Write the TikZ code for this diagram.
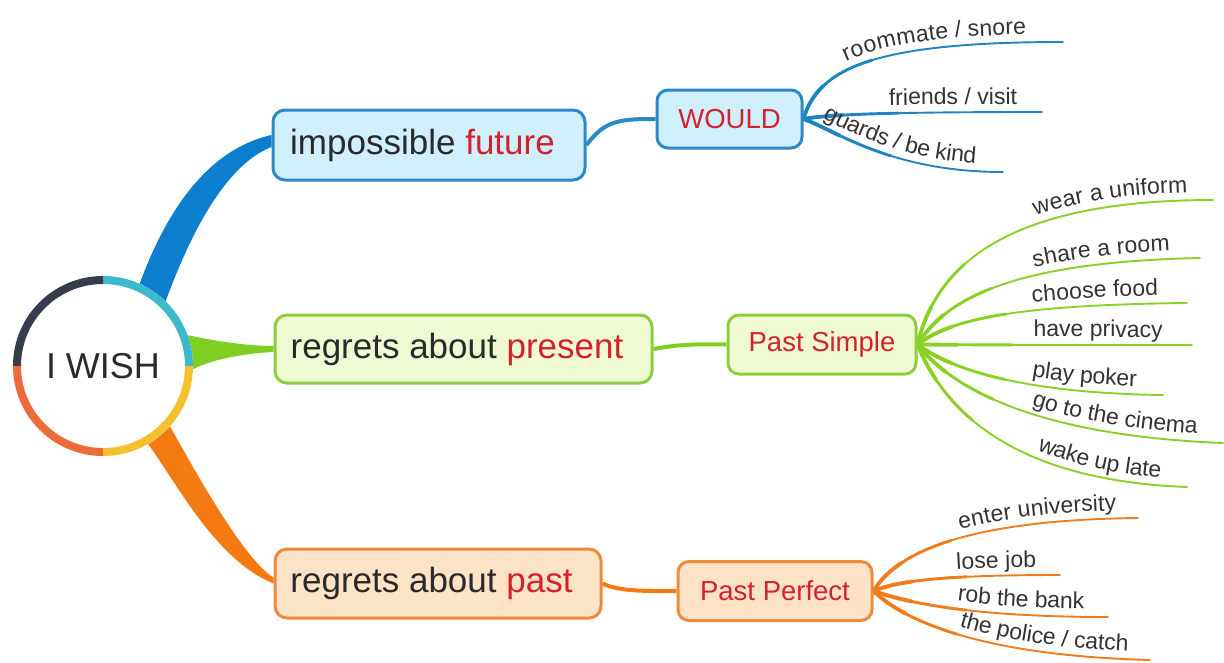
\documentclass[tikz,border=0pt]{standalone}
\usepackage{fontspec}
\setmainfont{Liberation Sans}
\usetikzlibrary{decorations.text,backgrounds}
\definecolor{bluemain}{HTML}{0B7FCE}
\definecolor{blueborder}{HTML}{2A8AC6}
\definecolor{bluefill}{HTML}{CFEFFC}
\definecolor{blueleaf}{HTML}{1F84C4}
\definecolor{greenmain}{HTML}{7FCF22}
\definecolor{greenborder}{HTML}{8ECD3E}
\definecolor{greenfill}{HTML}{F0FAD2}
\definecolor{greenleaf}{HTML}{88D226}
\definecolor{orangemain}{HTML}{F57A12}
\definecolor{orangeborder}{HTML}{EE8A3C}
\definecolor{orangefill}{HTML}{FDE3C6}
\definecolor{orangeleaf}{HTML}{F27C1C}
\definecolor{redtext}{HTML}{D4212B}
\definecolor{darktext}{HTML}{2A2A2A}
\definecolor{leaftext}{HTML}{333333}
\definecolor{ringnavy}{HTML}{363C4C}
\definecolor{ringteal}{HTML}{3DB9CB}
\definecolor{ringyellow}{HTML}{F5C02E}
\definecolor{ringorange}{HTML}{EE6A3A}
\newcommand{\leaffont}{\fontsize{23}{25}\selectfont}
\begin{document}
\begin{tikzpicture}[x=1pt,y=-1pt,
  box/.style={rounded corners=12pt, line width=3pt, inner sep=0pt,
    font=\fontsize{35}{40}\selectfont, text=darktext},
  subbox/.style={rounded corners=11pt, line width=3pt, inner sep=0pt,
    font=\fontsize{27.5}{30}\selectfont, text=redtext},
  blueb/.style={draw=blueborder, fill=bluefill},
  greenb/.style={draw=greenborder, fill=greenfill},
  orangeb/.style={draw=orangeborder, fill=orangefill},
  ring/.style={line width=8pt},
  link/.style={line width=4pt},
  leaf/.style={draw=#1, line width=1.9pt, line cap=round,
    preaction={draw=#1, line width=2.9pt, line cap=butt, dash pattern=on 95pt off 3000pt},
    preaction={draw=#1, line width=3.8pt, line cap=butt, dash pattern=on 40pt off 3000pt}},
  lbl/.style 2 args={postaction={decorate}, decoration={text along path,
    text={|\leaffont|#2}, text color=leaftext, raise=8pt,
    text align={left indent=#1}}}
]
\useasboundingbox (0,0) rectangle (1224,662);

% central node
\node[circle, fill=white, minimum size=180pt, inner sep=0pt,
      font=\fontsize{36}{40}\selectfont, text=darktext] (wish) at (103,366) {I WISH};

% main boxes
\node[box, blueb, minimum width=312pt, minimum height=70pt] (fut) at (429,145)
  {\hspace*{-13pt}impossible \textcolor{redtext}{future}};
\node[box, greenb, minimum width=377pt, minimum height=68pt] (pres) at (463.5,349)
  {\hspace*{-13pt}regrets about \textcolor{redtext}{present}};
\node[box, orangeb, minimum width=326pt, minimum height=69pt] (past) at (438,583.5)
  {\hspace*{-13pt}regrets about \textcolor{redtext}{past}};

% sub boxes
\node[subbox, blueb, minimum width=145pt, minimum height=58pt] (would) at (729.5,119) {WOULD};
\node[subbox, greenb, minimum width=188pt, minimum height=59pt] (ps) at (822,344.5) {Past Simple};
\node[subbox, orangeb, minimum width=194pt, minimum height=59pt] (pp) at (775,591) {Past Perfect};

% leaf ends
\coordinate (l11) at (1063,42);
\coordinate (l12) at (1042,112);
\coordinate (l13) at (1003,172);
\coordinate (l21) at (1213,200);
\coordinate (l22) at (1200,258);
\coordinate (l23) at (1187,303);
\coordinate (l24) at (1192,345);
\coordinate (l25) at (1163,395);
\coordinate (l26) at (1223,443);
\coordinate (l27) at (1187,487);
\coordinate (l31) at (1138,518);
\coordinate (l32) at (1060,575);
\coordinate (l33) at (1108,617);
\coordinate (l34) at (1150,660);

\begin{scope}[on background layer]
  % tapered main branches
  \fill[bluemain] (wish.66) .. controls (165,215) and (205,150) .. ([yshift=10pt]fut.west)
    -- ([yshift=-2pt]fut.west) .. controls (225,165) and (190,235) .. (wish.46) -- cycle;
  \fill[greenmain] (wish.20) .. controls (220,342) and (250,346) .. ([yshift=3pt]pres.west)
    -- ([yshift=-3pt]pres.west) .. controls (250,353) and (215,358) .. (wish.-2) -- cycle;
  \fill[orangemain] (wish.-60) .. controls (175,480) and (215,560) .. (past.west)
    -- ([yshift=6pt]past.west) .. controls (245,560) and (200,480) .. (wish.-42) -- cycle;

  % links to sub boxes
  \draw[link, blueborder] (fut.east) .. controls (605,120) and (620,119) .. (would.west);
  \draw[link, greenmain] (pres.east) .. controls (680,344) and (700,344) .. (ps.west);
  \draw[link, orangemain] (past.east) .. controls (620,592) and (650,591) .. (pp.west);

  % WOULD leaves
  \draw[leaf=blueleaf, lbl={70pt}{roommate / snore}] (would.east) .. controls (818,68) and (875,42) .. (l11);
  \draw[leaf=blueleaf, lbl={86pt}{friends / visit}] (would.east) .. controls (830,114) and (900,112) .. (l12);
  \draw[leaf=blueleaf, lbl={17pt}{guards / be kind}] (would.east) .. controls (835,130) and (890,172) .. (l13);

  % Past Simple leaves
  \draw[leaf=greenleaf, lbl={179pt}{wear a uniform}] (ps.east) .. controls (935,270) and (1000,200) .. (l21);
  \draw[leaf=greenleaf, lbl={141pt}{share a room}] (ps.east) .. controls (945,300) and (1010,262) .. (l22);
  \draw[leaf=greenleaf, lbl={122pt}{choose food}] (ps.east) .. controls (950,320) and (1010,305) .. (l23);
  \draw[leaf=greenleaf, lbl={116pt}{have privacy}] (ps.east) .. controls (980,345) and (1080,345) .. (l24);
  \draw[leaf=greenleaf, lbl={121pt}{play poker}] (ps.east) .. controls (945,365) and (1010,393) .. (l25);
  \draw[leaf=greenleaf, lbl={133pt}{go to the cinema}] (ps.east) .. controls (945,380) and (1020,435) .. (l26);
  \draw[leaf=greenleaf, lbl={167pt}{wake up late}] (ps.east) .. controls (940,400) and (1000,480) .. (l27);

  % Past Perfect leaves
  \draw[leaf=orangeleaf, lbl={106pt}{enter university}] (pp.east) .. controls (895,555) and (960,520) .. (l31);
  \draw[leaf=orangeleaf, lbl={85pt}{lose job}] (pp.east) .. controls (900,580) and (950,575) .. (l32);
  \draw[leaf=orangeleaf, lbl={85pt}{rob the bank}] (pp.east) .. controls (900,600) and (960,617) .. (l33);
  \draw[leaf=orangeleaf, lbl={95pt}{the police / catch}] (pp.east) .. controls (895,612) and (960,655) .. (l34);
\end{scope}

% multicoloured ring
\draw[ring, ringteal] (wish.center) ++(0:86pt) arc[start angle=0, end angle=90, radius=86pt];
\draw[ring, ringnavy] (wish.center) ++(90:86pt) arc[start angle=90, end angle=180, radius=86pt];
\draw[ring, ringorange] (wish.center) ++(180:86pt) arc[start angle=180, end angle=270, radius=86pt];
\draw[ring, ringyellow] (wish.center) ++(270:86pt) arc[start angle=270, end angle=360, radius=86pt];
\end{tikzpicture}
\end{document}
